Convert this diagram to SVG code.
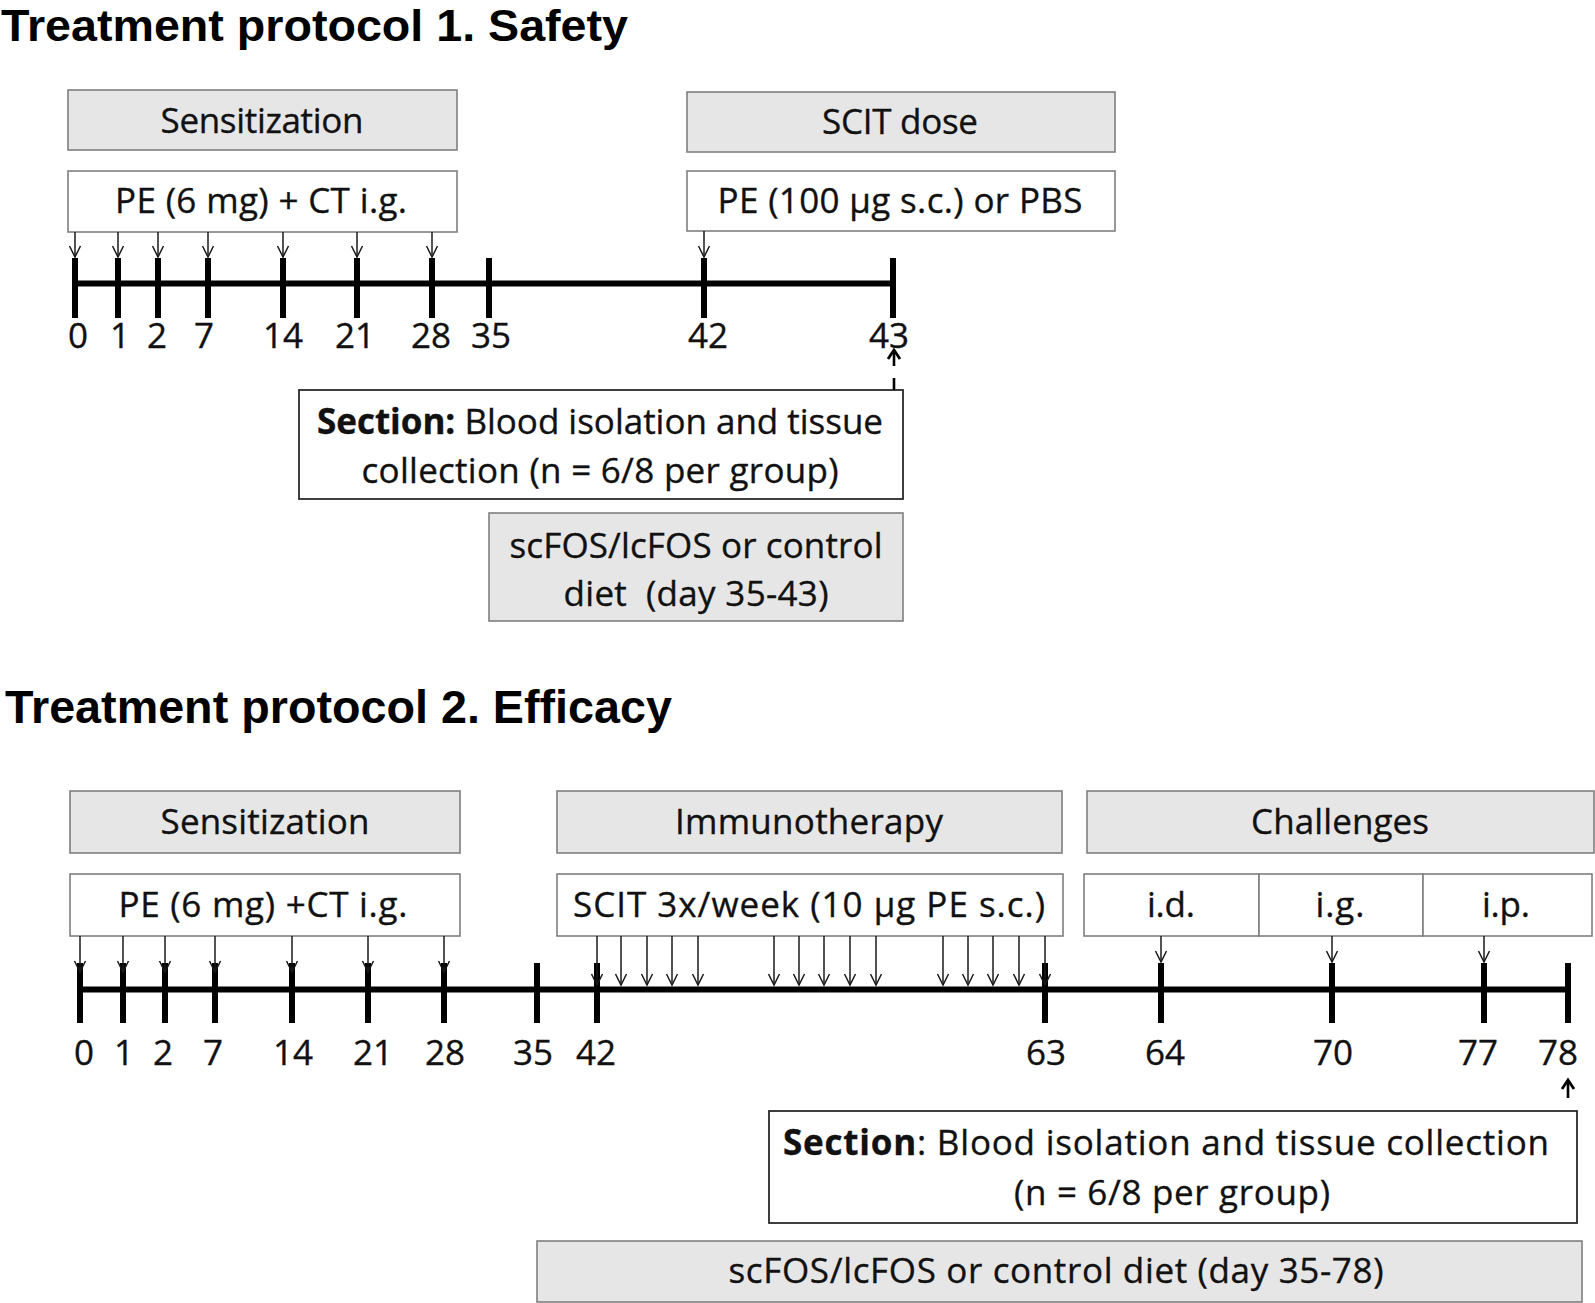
<svg xmlns="http://www.w3.org/2000/svg" width="1595" height="1303" viewBox="0 0 1595 1303">
<style>
.title{font-family:"Liberation Sans",Arial,sans-serif;font-weight:bold;font-size:46.5px;fill:#000}
.t{font-family:"Open Sans","Noto Sans",sans-serif;font-size:35px;fill:#111;stroke:#111;stroke-width:0.35;text-anchor:middle}
.num{font-family:"Open Sans","Noto Sans",sans-serif;font-size:35px;fill:#111;stroke:#111;stroke-width:0.35;text-anchor:middle}
.gray{fill:#e6e6e6;stroke:#7f7f7f;stroke-width:1.6}
.white{fill:#fff;stroke:#7f7f7f;stroke-width:1.6}
.sect{fill:#fff;stroke:#2a2a2a;stroke-width:1.8}
.axis{stroke:#000;stroke-width:6;fill:none}
.tick{stroke:#000;stroke-width:6;fill:none}
.arr{stroke:#1a1a1a;stroke-width:1.5;fill:none;marker-end:url(#ah)}
.up{stroke:#000;stroke-width:2.6;fill:none}
.b{font-weight:bold}
</style>
<defs>
<marker id="ah" markerUnits="userSpaceOnUse" orient="auto" viewBox="-13 -8 15 16" markerWidth="15" markerHeight="16" refX="0" refY="0" overflow="visible">
<path d="M-11,-5.5 L0,0 L-11,5.5" fill="none" stroke="#1a1a1a" stroke-width="1.5"/>
</marker>
<marker id="ahb" markerUnits="userSpaceOnUse" orient="auto" viewBox="-13 -8 15 16" markerWidth="15" markerHeight="16" refX="0" refY="0" overflow="visible">
<path d="M-9,-6 L0,0 L-9,6" fill="none" stroke="#000" stroke-width="2.8"/>
</marker>
</defs>

<text class="title" x="1" y="41" style="font-size:45px" textLength="627" lengthAdjust="spacingAndGlyphs">Treatment protocol 1. Safety</text>
<text class="title" x="5" y="723" textLength="667" lengthAdjust="spacingAndGlyphs">Treatment protocol 2. Efficacy</text>

<!-- Protocol 1 nodes -->
<g id="p1-sensitization"><rect class="gray" x="68" y="90" width="389" height="60"/><text class="t" x="262" y="133" textLength="203">Sensitization</text></g>
<g id="p1-pe-ct"><rect class="white" x="68" y="171" width="389" height="61"/><text class="t" x="261" y="213" textLength="292">PE (6 mg) + CT i.g.</text></g>
<g id="p1-scit-dose"><rect class="gray" x="687" y="92" width="428" height="60"/><text class="t" x="900" y="134" textLength="156">SCIT dose</text></g>
<g id="p1-pe100"><rect class="white" x="687" y="171" width="428" height="60"/><text class="t" x="900" y="213" textLength="365">PE (100 µg s.c.) or PBS</text></g>
<g id="p1-section"><rect class="sect" x="299" y="390" width="604" height="109"/>
<text class="t" x="600" y="434" textLength="566"><tspan class="b">Section:</tspan> Blood isolation and tissue</text>
<text class="t" x="600" y="483" textLength="477">collection (n = 6/8 per group)</text></g>
<g id="p1-diet"><rect class="gray" x="489" y="513" width="414" height="108"/>
<text class="t" x="696" y="558" textLength="373">scFOS/lcFOS or control</text>
<text class="t" x="696" y="606" textLength="265">diet&#160; (day 35-43)</text></g>

<g id="p1-timeline">
<line class="axis" x1="75" y1="283.5" x2="893" y2="283.5"/>
<path class="tick" d="M75,258V318M118,258V318M158,258V318M208,258V318M283,258V318M357,258V318M432,258V318M489,258V318M704,258V318M893,258V318"/>
<text class="num" x="78" y="348">0</text>
<text class="num" x="120" y="348">1</text>
<text class="num" x="157" y="348">2</text>
<text class="num" x="204" y="348">7</text>
<text class="num" x="283" y="348">14</text>
<text class="num" x="355" y="348">21</text>
<text class="num" x="431" y="348">28</text>
<text class="num" x="491" y="348">35</text>
<text class="num" x="708" y="348">42</text>
<text class="num" x="889" y="348">43</text>
</g>

<!-- Protocol 2 nodes -->
<g id="p2-sensitization"><rect class="gray" x="70" y="791" width="390" height="62"/><text class="t" x="265" y="834" textLength="209">Sensitization</text></g>
<g id="p2-pe-ct"><rect class="white" x="70" y="874" width="390" height="62"/><text class="t" x="263" y="917" textLength="289">PE (6 mg) +CT i.g.</text></g>
<g id="p2-immunotherapy"><rect class="gray" x="557" y="791" width="505" height="62"/><text class="t" x="809" y="834" textLength="268">Immunotherapy</text></g>
<g id="p2-scit"><rect class="white" x="557" y="874" width="506" height="62"/><text class="t" x="809" y="917" textLength="472">SCIT 3x/week (10 µg PE s.c.)</text></g>
<g id="p2-challenges"><rect class="gray" x="1087" y="791" width="507" height="62"/><text class="t" x="1340" y="834" textLength="178">Challenges</text></g>
<g id="p2-id"><rect class="white" x="1084" y="874" width="175" height="62"/><text class="t" x="1171" y="917" textLength="48">i.d.</text></g>
<g id="p2-ig"><rect class="white" x="1259" y="874" width="164" height="62"/><text class="t" x="1340" y="917" textLength="49">i.g.</text></g>
<g id="p2-ip"><rect class="white" x="1423" y="874" width="169" height="62"/><text class="t" x="1506" y="917" textLength="48">i.p.</text></g>
<g id="p2-section"><rect class="sect" x="769" y="1111" width="808" height="112"/>
<text class="t" x="1166" y="1155" textLength="766"><tspan class="b">Section</tspan>: Blood isolation and tissue collection</text>
<text class="t" x="1172" y="1205" textLength="316">(n = 6/8 per group)</text></g>
<g id="p2-diet"><rect class="gray" x="537" y="1241" width="1045" height="61"/>
<text class="t" x="1056" y="1283" textLength="655">scFOS/lcFOS or control diet (day 35-78)</text></g>

<g id="p2-timeline">
<line class="axis" x1="80" y1="989.5" x2="1568" y2="989.5"/>
<path class="tick" d="M80,963V1023M123,963V1023M165,963V1023M215,963V1023M292,963V1023M368,963V1023M444,963V1023M537,963V1023M597,963V1023M1045,963V1023M1161,963V1023M1332,963V1023M1484,963V1023M1568,963V1023"/>
<text class="num" x="84" y="1065">0</text>
<text class="num" x="124" y="1065">1</text>
<text class="num" x="163" y="1065">2</text>
<text class="num" x="213" y="1065">7</text>
<text class="num" x="293" y="1065">14</text>
<text class="num" x="373" y="1065">21</text>
<text class="num" x="445" y="1065">28</text>
<text class="num" x="533" y="1065">35</text>
<text class="num" x="596" y="1065">42</text>
<text class="num" x="1046" y="1065">63</text>
<text class="num" x="1165" y="1065">64</text>
<text class="num" x="1333" y="1065">70</text>
<text class="num" x="1478" y="1065">77</text>
<text class="num" x="1558" y="1065">78</text>
</g>

<!-- Connectors -->
<g id="connectors">
<line class="arr" x1="75" y1="232" x2="75" y2="257"/>
<line class="arr" x1="118" y1="232" x2="118" y2="257"/>
<line class="arr" x1="158" y1="232" x2="158" y2="257"/>
<line class="arr" x1="208" y1="232" x2="208" y2="257"/>
<line class="arr" x1="283" y1="232" x2="283" y2="257"/>
<line class="arr" x1="357" y1="232" x2="357" y2="257"/>
<line class="arr" x1="432" y1="232" x2="432" y2="257"/>
<line class="arr" x1="704" y1="231" x2="704" y2="257"/>
<line class="up" x1="894" y1="390" x2="894" y2="378"/>
<line class="up" x1="894" y1="366" x2="894" y2="350" marker-end="url(#ahb)"/>

<line class="arr" x1="80" y1="936" x2="80" y2="972"/>
<line class="arr" x1="123" y1="936" x2="123" y2="972"/>
<line class="arr" x1="165" y1="936" x2="165" y2="972"/>
<line class="arr" x1="215" y1="936" x2="215" y2="972"/>
<line class="arr" x1="292" y1="936" x2="292" y2="972"/>
<line class="arr" x1="368" y1="936" x2="368" y2="972"/>
<line class="arr" x1="444" y1="936" x2="444" y2="972"/>

<line class="arr" x1="597" y1="936" x2="597" y2="985"/>
<line class="arr" x1="621" y1="936" x2="621" y2="985"/>
<line class="arr" x1="647" y1="936" x2="647" y2="985"/>
<line class="arr" x1="672" y1="936" x2="672" y2="985"/>
<line class="arr" x1="698" y1="936" x2="698" y2="985"/>
<line class="arr" x1="774" y1="936" x2="774" y2="985"/>
<line class="arr" x1="799" y1="936" x2="799" y2="985"/>
<line class="arr" x1="824" y1="936" x2="824" y2="985"/>
<line class="arr" x1="850" y1="936" x2="850" y2="985"/>
<line class="arr" x1="876" y1="936" x2="876" y2="985"/>
<line class="arr" x1="943" y1="936" x2="943" y2="985"/>
<line class="arr" x1="968" y1="936" x2="968" y2="985"/>
<line class="arr" x1="993" y1="936" x2="993" y2="985"/>
<line class="arr" x1="1019" y1="936" x2="1019" y2="985"/>
<line class="arr" x1="1045" y1="936" x2="1045" y2="985"/>

<line class="arr" x1="1161" y1="936" x2="1161" y2="962"/>
<line class="arr" x1="1332" y1="936" x2="1332" y2="962"/>
<line class="arr" x1="1484" y1="936" x2="1484" y2="962"/>

<line class="up" x1="1568" y1="1098" x2="1568" y2="1080" marker-end="url(#ahb)"/>
</g>
</svg>
